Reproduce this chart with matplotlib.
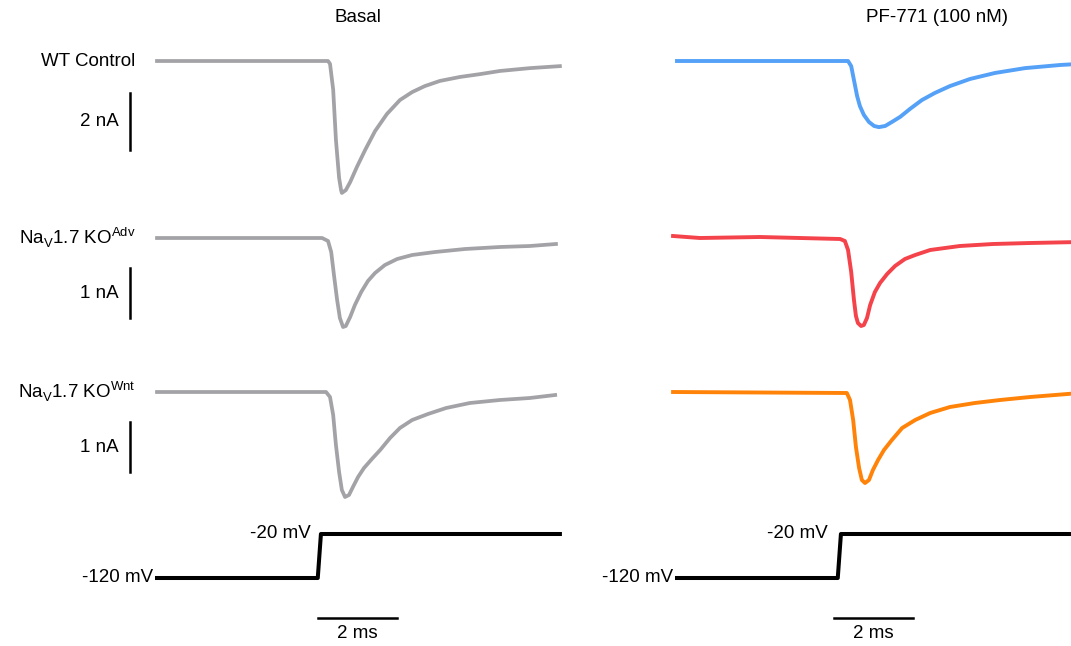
import matplotlib
matplotlib.use("Agg")
import matplotlib.pyplot as plt

plt.rcParams["font.family"] = ["Liberation Sans", "DejaVu Sans"]
plt.rcParams["font.size"] = 13.5

# time in ms, current in nA, voltage in mV
t_wt_basal = [0, 4.33, 4.38, 4.46, 4.53, 4.61, 4.66, 4.68, 4.78, 4.89, 5.06, 5.27, 5.52, 5.82, 6.15,
              6.46, 6.78, 7.16, 7.67, 8.18, 8.68, 9.44, 10.2]
i_wt_basal = [0, 0, -0.1, -1.0, -2.77, -4.1, -4.53, -4.63, -4.53, -4.25, -3.72, -3.12, -2.46, -1.86, -1.37,
              -1.09, -0.88, -0.70, -0.56, -0.46, -0.35, -0.25, -0.18]

t_wt_pf = [0, 4.33, 4.41, 4.48, 4.56, 4.63, 4.73, 4.86, 4.99, 5.11, 5.27, 5.44, 5.65, 5.9, 6.2,
           6.53, 6.91, 7.42, 8.05, 8.81, 9.7, 10.2]
i_wt_pf = [0, 0, -0.18, -0.67, -1.23, -1.58, -1.89, -2.14, -2.28, -2.32, -2.28, -2.14, -1.96, -1.68, -1.37,
           -1.12, -0.88, -0.63, -0.42, -0.25, -0.14, -0.1]

t_adv_basal = [0, 4.18, 4.33, 4.41, 4.48, 4.56, 4.63, 4.71, 4.78, 4.89, 5.01, 5.17, 5.34, 5.52, 5.77,
               6.08, 6.46, 7.04, 7.8, 8.68, 9.44, 10.1]
i_adv_basal = [0, 0, -0.06, -0.28, -0.74, -1.24, -1.6, -1.78, -1.76, -1.58, -1.34, -1.08, -0.86, -0.7, -0.54,
               -0.42, -0.34, -0.28, -0.22, -0.18, -0.16, -0.12]

t_adv_pf = [-0.1, 0.58, 2.1, 3.11, 4.13, 4.25, 4.33, 4.41, 4.48, 4.53, 4.58, 4.66, 4.73, 4.81, 4.89,
            5.01, 5.14, 5.32, 5.52, 5.77, 6.03, 6.41, 7.16, 8.0, 8.94, 10.2]
i_adv_pf = [0.04, 0, 0.02, 0, -0.02, -0.06, -0.24, -0.68, -1.24, -1.56, -1.7, -1.76, -1.74, -1.6, -1.34,
            -1.08, -0.9, -0.72, -0.56, -0.42, -0.34, -0.24, -0.16, -0.12, -0.1, -0.08]

t_wnt_basal = [0, 4.28, 4.38, 4.46, 4.53, 4.61, 4.68, 4.76, 4.86, 4.96, 5.09, 5.24, 5.44, 5.65, 5.9,
               6.15, 6.46, 6.86, 7.32, 7.92, 8.68, 9.44, 10.08]
i_wnt_basal = [0, 0, -0.1, -0.46, -1.06, -1.6, -1.96, -2.1, -2.06, -1.9, -1.7, -1.52, -1.34, -1.16, -0.92,
               -0.72, -0.56, -0.44, -0.32, -0.22, -0.16, -0.12, -0.06]

t_wnt_pf = [-0.1, 4.3, 4.38, 4.46, 4.53, 4.61, 4.68, 4.76, 4.86, 4.96, 5.09, 5.24, 5.44, 5.7, 6.03,
            6.41, 6.91, 7.54, 8.18, 8.94, 10.2]
i_wnt_pf = [0, -0.02, -0.16, -0.56, -1.1, -1.52, -1.76, -1.82, -1.76, -1.56, -1.36, -1.16, -0.96, -0.72, -0.56,
            -0.42, -0.3, -0.22, -0.16, -0.1, -0.02]

t_step = [0, 4.07, 4.15, 10.2]
v_step = [-120, -120, -20, -20]

row_labels = ["WT Control", "Na$_\\mathregular{V}$1.7 KO$^\\mathregular{Adv}$", "Na$_\\mathregular{V}$1.7 KO$^\\mathregular{Wnt}$"]
scale_nA = [2, 1, 1]
col_titles = ["Basal", "PF-771 (100 nM)"]

gray = "#a3a3a7"
colors_pf = ["#55a1f7", "#f4434a", "#ff8309"]

W, H = 1071, 646
fig = plt.figure(figsize=(W / 100, H / 100), dpi=100)

PX_MS = 39.5
SPAN = 10.4


def panel(x0, yb, s, ref=0.0, top=20, bot=150):
    # axes whose data units map to the given pixel origin / scale
    ax = fig.add_axes([x0 / W, 1 - (yb + bot) / H, SPAN * PX_MS / W, (top + bot) / H])
    ax.set_xlim(0, SPAN)
    ax.set_ylim(ref - bot / s, ref + top / s)
    ax.axis("off")
    ax.patch.set_alpha(0)
    return ax


rows = [(61, 28.5), (238, 50), (392, 50)]
basal = [(t_wt_basal, i_wt_basal), (t_adv_basal, i_adv_basal), (t_wnt_basal, i_wnt_basal)]
pf = [(t_wt_pf, i_wt_pf), (t_adv_pf, i_adv_pf), (t_wnt_pf, i_wnt_pf)]

for r, (yb, s) in enumerate(rows):
    ax = panel(157, yb, s)
    ax.plot(*basal[r], color=gray, lw=2.7, solid_joinstyle="round", clip_on=False)
    ax.text(-0.55, 0, row_labels[r], ha="right", va="center")
    bar_top = -(32 if r == 0 else 30) / s
    ax.plot([-0.68, -0.68], [bar_top, bar_top - scale_nA[r]], color="black", lw=1.8, clip_on=False)
    ax.text(-0.98, bar_top - scale_nA[r] / 2, f"{scale_nA[r]} nA", ha="right", va="center")

    ax2 = panel(677, yb, s)
    ax2.plot(*pf[r], color=colors_pf[r], lw=2.8, solid_joinstyle="round", clip_on=False)

for c, x0 in enumerate([157, 677]):
    av = panel(x0, 578, 0.44, ref=-120, top=60, bot=70)
    av.plot(t_step, v_step, color="black", lw=2.9, clip_on=False)
    av.text(-0.1, -120, "-120 mV", ha="right", va="center")
    av.text(3.88 if c == 0 else 3.82, -20, "-20 mV", ha="right", va="center")
    b0 = 4.08 if c == 0 else 3.98
    av.plot([b0, b0 + 2], [-211, -211], color="black", lw=1.8, clip_on=False)
    av.text(b0 + 1, -226, "2 ms", ha="center", va="top")

fig.text(358 / W, 1 - 18 / H, col_titles[0], ha="center", va="center")
fig.text(937 / W, 1 - 18 / H, col_titles[1], ha="center", va="center")

fig.savefig("out.png", dpi=100)
